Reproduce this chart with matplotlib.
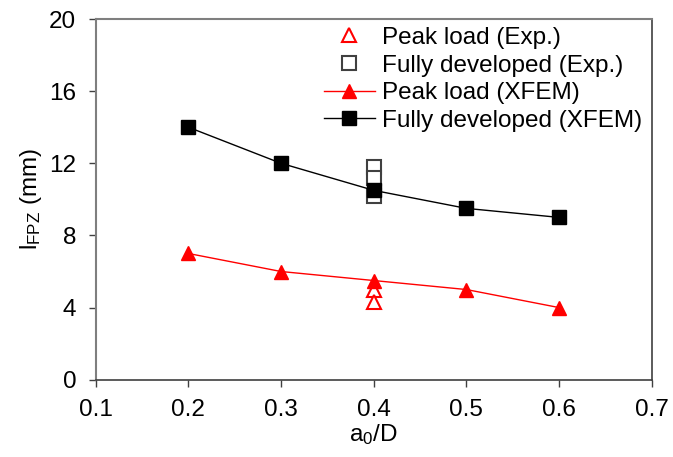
import matplotlib
matplotlib.use("Agg")
import matplotlib.pyplot as plt

plt.rcParams['font.family'] = ['Liberation Sans', 'DejaVu Sans']
plt.rcParams['mathtext.fontset'] = 'custom'
plt.rcParams['mathtext.rm'] = 'Liberation Sans'
plt.rcParams['mathtext.it'] = 'Liberation Sans:italic'

# Data
a0D = [0.2, 0.3, 0.4, 0.5, 0.6]
peak_xfem = [7.0, 6.0, 5.5, 5.0, 4.0]
full_xfem = [14.0, 12.0, 10.5, 9.5, 9.0]
exp_x_peak = [0.4, 0.4]
peak_exp = [5.0, 4.3]
exp_x_full = [0.4, 0.4, 0.4]
full_exp = [11.8, 11.2, 10.2]
xticks = [0.1, 0.2, 0.3, 0.4, 0.5, 0.6, 0.7]
yticks = [0, 4, 8, 12, 16, 20]

fig = plt.figure(figsize=(6.73, 4.57), dpi=100)
ax = fig.add_axes([0.1422, 0.1691, 0.9684 - 0.1422, 0.9584 - 0.1691])

fs = 17.5
ax.plot(exp_x_peak, peak_exp, linestyle='none', marker='^', markersize=10,
        markerfacecolor='white', markeredgecolor='red', markeredgewidth=1.5,
        label='Peak load (Exp.)', zorder=3)
ax.plot(exp_x_full, full_exp, linestyle='none', marker='s', markersize=10,
        markerfacecolor='white', markeredgecolor='#404040', markeredgewidth=1.5,
        label='Fully developed (Exp.)', zorder=3)
ax.plot(a0D, peak_xfem, color='red', linewidth=1.0, marker='^', markersize=10,
        markerfacecolor='red', markeredgecolor='red', label='Peak load (XFEM)', zorder=4)
ax.plot(a0D, full_xfem, color='black', linewidth=1.0, marker='s', markersize=10,
        markerfacecolor='black', markeredgecolor='black',
        label='Fully developed (XFEM)', zorder=4)

ax.set_xlim(0.1, 0.7)
ax.set_ylim(0, 20)
ax.set_xticks(xticks)
ax.set_xticklabels([f'{t:.1f}' for t in xticks])
ax.set_yticks(yticks)
ax.set_yticklabels([str(t) for t in yticks])
ax.tick_params(direction='out', length=5, width=1, labelsize=fs, colors='#404040',
               labelcolor='black')
ax.tick_params(axis='x', pad=9)
ax.tick_params(axis='y', pad=9)

for side in ['left', 'top']:
    ax.spines[side].set_color('#7f7f7f')
    ax.spines[side].set_linewidth(1.5)
for side in ['bottom', 'right']:
    ax.spines[side].set_color('#404040')
    ax.spines[side].set_linewidth(1.2)

ax.set_xlabel('a$_0$/D', fontsize=fs, labelpad=1)
ax.set_ylabel('l$_{\\mathrm{FPZ}}$ (mm)', fontsize=fs, labelpad=4)

leg = ax.legend(loc='upper right', bbox_to_anchor=(1.0, 1.005), frameon=False,
                fontsize=fs, handlelength=2.1, handletextpad=0.3,
                labelspacing=0.23, borderaxespad=0.2, borderpad=0.2)

fig.savefig('out.png', dpi=100)
